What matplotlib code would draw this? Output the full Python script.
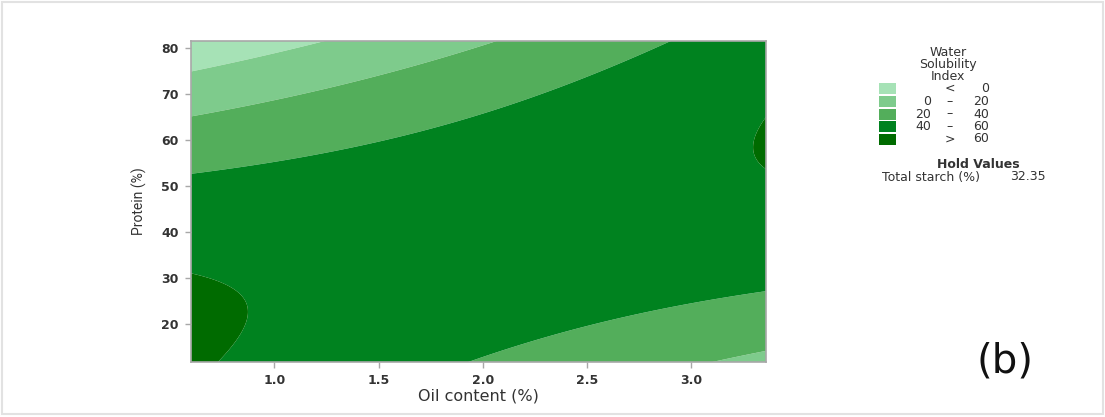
import numpy as np
import matplotlib
matplotlib.use("Agg")
import matplotlib.pyplot as plt
from matplotlib.patches import Rectangle

# fitted response surface for Water Solubility Index (total starch held at 32.35 %)
# WSI = b0 + b1*oil + b2*protein + b11*oil^2 + b22*protein^2 + b12*oil*protein
coef_names = ["b0", "b1", "b2", "b11", "b22", "b12"]
coef_values = [70.01, -23.10, 0.3936, -0.184, -0.020, 0.5888]

oil_range = [0.60, 3.36]
protein_range = [11.8, 81.5]

levels = [-1000, 0, 20, 40, 60, 1000]
level_colors = ["#a6e2b6", "#7ecb8c", "#53ae5b", "#00821f", "#006b00"]
legend_left = ["", "0", "20", "40", ""]
legend_sign = ["<", "\u2013", "\u2013", "\u2013", ">"]
legend_right = ["0", "20", "40", "60", "60"]

x_ticks = [1.0, 1.5, 2.0, 2.5, 3.0]
y_ticks = [20, 30, 40, 50, 60, 70, 80]

hold_name = "Total starch (%)"
hold_value = "32.35"

plt.rcParams['font.family'] = ['DejaVu Sans']

fig = plt.figure(figsize=(11.05, 4.17), dpi=100)
fig.patches.append(Rectangle((0.002, 0.006), 0.996, 0.99, transform=fig.transFigure,
                             fill=False, edgecolor="#e2e2e2", linewidth=1.5))

ax = fig.add_axes([0.1729, 0.1319, 0.5204, 0.7705])

oil = np.linspace(oil_range[0], oil_range[1], 400)
protein = np.linspace(protein_range[0], protein_range[1], 400)
X, Y = np.meshgrid(oil, protein)
b = dict(zip(coef_names, coef_values))
Z = (b["b0"] + b["b1"] * X + b["b2"] * Y + b["b11"] * X ** 2
     + b["b22"] * Y ** 2 + b["b12"] * X * Y)

ax.contourf(X, Y, Z, levels=levels, colors=level_colors, antialiased=True)

ax.set_xlim(oil_range)
ax.set_ylim(protein_range)
ax.set_xticks(x_ticks)
ax.set_xticklabels([f"{v:.1f}" for v in x_ticks])
ax.set_yticks(y_ticks)
for s in ax.spines.values():
    s.set_color("#a8a8a8")
    s.set_linewidth(1.2)
ax.tick_params(colors="#a8a8a8", labelcolor="#333333", length=4, width=1, pad=5)
for lab in ax.get_xticklabels() + ax.get_yticklabels():
    lab.set_fontweight("bold")
    lab.set_fontsize(9)

ax.set_xlabel("Oil content (%)", fontsize=11.5, color="#333333", labelpad=1)
ax.set_ylabel("Protein (%)", fontsize=10, color="#333333", labelpad=10,
              family=["Liberation Sans Narrow", "Roboto", "DejaVu Sans"])

# legend drawn by hand, pixel positions converted to figure fraction
W, H = 1105.0, 417.0
def fx(px):
    return px / W
def fy(py):
    return 1 - py / H

tcol = "#333333"
fs = 9
for i, line in enumerate(["Water", "Solubility", "Index"]):
    fig.text(fx(948), fy(52 + i * 12.3), line, ha="center", va="center",
             fontsize=fs, color=tcol)

row_y = [88.3, 101.5, 114, 126.7, 139]
for i in range(len(level_colors)):
    fig.patches.append(Rectangle((fx(879), fy(row_y[i] + 5.5)), 17 / W, 11 / H,
                                 transform=fig.transFigure, facecolor=level_colors[i],
                                 edgecolor="none"))
    fig.text(fx(931), fy(row_y[i]), legend_left[i], ha="right", va="center",
             fontsize=fs, color=tcol)
    fig.text(fx(950), fy(row_y[i]), legend_sign[i], ha="center", va="center",
             fontsize=fs, color=tcol)
    fig.text(fx(989), fy(row_y[i]), legend_right[i], ha="right", va="center",
             fontsize=fs, color=tcol)

fig.text(fx(978), fy(165), "Hold Values", ha="center", va="center",
         fontsize=fs, fontweight="bold", color=tcol)
fig.text(fx(882), fy(177), hold_name, ha="left", va="center", fontsize=fs, color=tcol)
fig.text(fx(1046), fy(177), hold_value, ha="right", va="center", fontsize=fs, color=tcol)

fig.text(fx(1005), fy(362), "(b)", ha="center", va="center", fontsize=29, color="#111111")

fig.savefig("out.png", dpi=100)
